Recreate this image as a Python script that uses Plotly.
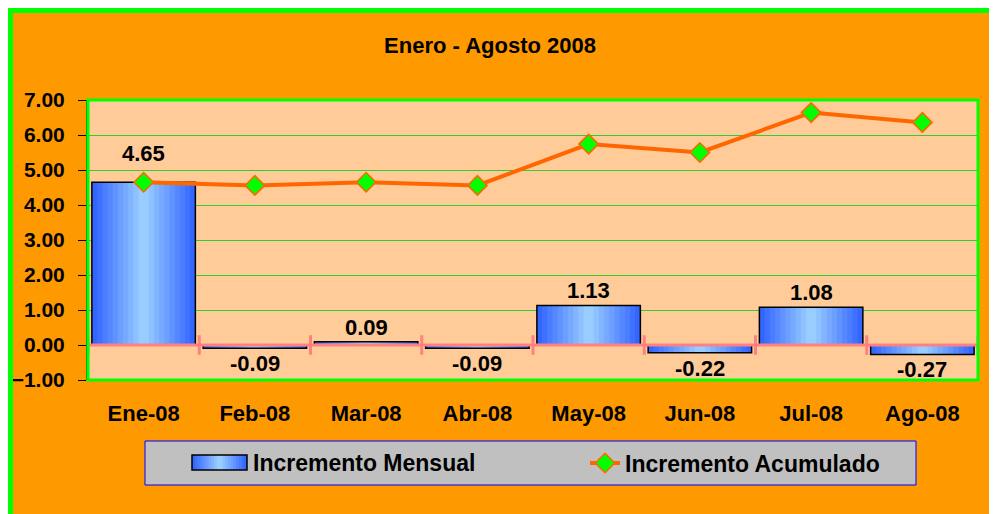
import plotly.graph_objects as go

months = ['Ene-08', 'Feb-08', 'Mar-08', 'Abr-08', 'May-08', 'Jun-08', 'Jul-08', 'Ago-08']
mensual = [4.65, -0.09, 0.09, -0.09, 1.13, -0.22, 1.08, -0.27]
acumulado = [4.65, 4.56, 4.65, 4.56, 5.74, 5.50, 6.64, 6.36]
y_ticks = [-1, 0, 1, 2, 3, 4, 5, 6, 7]

W, H = 997, 514
OFF = 8  # page margin around the figure
L, R, T, B = 88, 978, 100, 380  # plot area, in screen pixels


def px(x):
    return (x - L) / (R - L)


def py(y):
    return (B - y) / (B - T)


FONT = 'Liberation Sans'
BOLD = dict(family=FONT, color='black', weight='bold')
xs = list(range(len(months)))

fig = go.Figure()

# fake horizontal gradient on the bars: stacked narrower, lighter bars
N = 10
bw = 0.93
edge = (51, 102, 255)
center = (153, 204, 255)
grad = []
for k in range(N):
    t = k / (N - 1)
    grad.append('rgb(%d,%d,%d)' % tuple(round(e + (m - e) * t) for e, m in zip(edge, center)))

for k in range(N):
    fig.add_trace(go.Bar(
        x=xs, y=mensual, width=bw * (1 - k / N),
        marker=dict(color=grad[k], line=dict(width=0)),
        name='Incremento Mensual', showlegend=False, hoverinfo='skip'
    ))

# outline
fig.add_trace(go.Bar(
    x=xs, y=mensual, width=bw,
    marker=dict(color='rgba(0,0,0,0)', line=dict(color='black', width=1.5)),
    name='Incremento Mensual', showlegend=False
))

# zero line with category separators
bounds = [i - 0.5 for i in range(len(months) + 1)]
fig.add_trace(go.Scatter(
    x=bounds, y=[0] * len(bounds), mode='lines+markers',
    line=dict(color='#FF8080', width=3),
    marker=dict(symbol='line-ns', size=14, line=dict(color='#FF8080', width=3)),
    showlegend=False, hoverinfo='skip', cliponaxis=False
))

fig.add_trace(go.Scatter(
    x=xs, y=acumulado, mode='lines+markers', name='Incremento Acumulado',
    line=dict(color='#FF6600', width=4),
    marker=dict(symbol='diamond', size=15, color='#00FF00',
                line=dict(color='#FF6600', width=1.5))
))

# value labels on the bars
annotations = []
for i, v in enumerate(mensual):
    clash = abs(acumulado[i] - v) < 0.5  # line marker sits on the bar top
    annotations.append(dict(
        x=i, y=v, xref='x', yref='y', text='%.2f' % v, showarrow=False,
        yanchor='bottom' if v >= 0 else 'top',
        yshift=(14 if clash else 0) if v >= 0 else -1,
        font=dict(size=22, **BOLD)
    ))

# manual legend entry for the bars (wide gradient swatch)
sx0, sx1, sy0, sy1 = 192, 247, 455, 470
shapes = [
    dict(type='rect', xref='paper', yref='paper', x0=px(145), x1=px(916), y0=py(441), y1=py(485),
         fillcolor='#C0C0C0', line=dict(color='#0000FF', width=1)),
]
for k in range(N):
    half = (sx1 - sx0) / 2 * (1 - k / N)
    mid = (sx0 + sx1) / 2
    shapes.append(dict(type='rect', xref='paper', yref='paper',
                       x0=px(mid - half), x1=px(mid + half), y0=py(sy0), y1=py(sy1),
                       fillcolor=grad[k], line=dict(width=0)))
shapes.append(dict(type='rect', xref='paper', yref='paper', x0=px(sx0), x1=px(sx1),
                   y0=py(sy0), y1=py(sy1), line=dict(color='black', width=1.5)))
annotations.append(dict(x=px(251), y=py(463), xref='paper', yref='paper', xanchor='left',
                        yanchor='middle', text='Incremento Mensual', showarrow=False,
                        font=dict(size=23, **BOLD)))

# plot area border and green chart frame
shapes += [
    dict(type='rect', xref='paper', yref='paper', x0=0, x1=1, y0=0, y1=1,
         line=dict(color='#00FF00', width=3), layer='above'),
    dict(type='rect', xref='paper', yref='paper', x0=px(OFF), x1=px(OFF + W), y0=py(OFF), y1=py(OFF + 5),
         fillcolor='#00FF00', line=dict(width=0)),
    dict(type='rect', xref='paper', yref='paper', x0=px(OFF), x1=px(OFF + 5), y0=py(OFF), y1=py(OFF + H),
         fillcolor='#00FF00', line=dict(width=0)),
]

fig.update_layout(
    width=W, height=H,
    margin=dict(l=L - OFF, r=W - (R - OFF), t=T - OFF, b=H - (B - OFF), pad=0),
    paper_bgcolor='#FF9900', plot_bgcolor='#FFCC99',
    barmode='overlay',
    font=dict(size=21, **BOLD),
    title=dict(text='Enero - Agosto 2008', x=(490 - OFF) / W, xanchor='center',
               y=1 - (45 - OFF) / H, yanchor='middle',
               font=dict(size=22, **BOLD)),
    xaxis=dict(range=[-0.5, 7.5], tickmode='array', tickvals=xs, ticktext=months,
               showgrid=False, zeroline=False, showline=False, ticks='',
               automargin=False,
               ticklabelstandoff=18, tickfont=dict(size=22, **BOLD)),
    yaxis=dict(range=[-1, 7], tickmode='array', tickvals=y_ticks, tickformat='.2f',
               showgrid=True, gridcolor='#33CC33', gridwidth=1, zeroline=False,
               showline=True, linecolor='#006600', linewidth=2, automargin=False,
               ticks='outside', ticklen=8, tickcolor='black', ticklabelstandoff=9,
               tickfont=dict(size=21, **BOLD)),
    legend=dict(orientation='h', x=px(585), xanchor='left', y=py(463), yanchor='middle',
                bgcolor='rgba(0,0,0,0)',
                font=dict(size=23, **BOLD)),
    shapes=shapes,
    annotations=annotations,
    showlegend=True,
)

fig.write_html('out.html')
